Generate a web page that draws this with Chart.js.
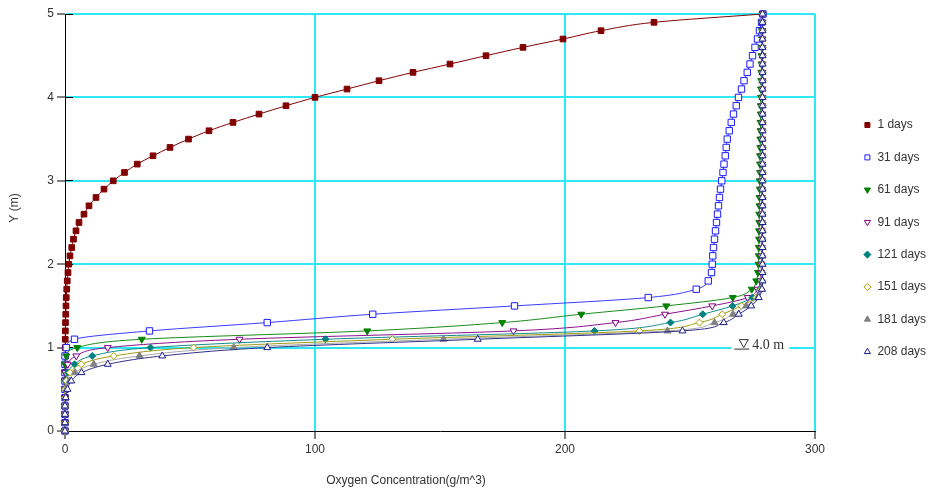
<!DOCTYPE html>
<html>
<head>
<meta charset="utf-8">
<script src="https://cdn.jsdelivr.net/npm/chart.js@4.4.0/dist/chart.umd.min.js"></script>
<style>
  body { margin: 0; background: #fff; }
  #area { width: 936px; height: 491px; position: relative; }
</style>
</head>
<body>
<div id="area"><canvas id="grafico"></canvas></div>
<script>
// Profundidades (Y em m), uma linha de perfil por série
const profundidades = [
  0.0, 0.1, 0.2, 0.3, 0.4, 0.5, 0.6, 0.7, 0.8, 0.9,
  1.0, 1.1, 1.2, 1.3, 1.4, 1.5, 1.6, 1.7, 1.8, 1.9,
  2.0, 2.1, 2.2, 2.3, 2.4, 2.5, 2.6, 2.7, 2.8, 2.9,
  3.0, 3.1, 3.2, 3.3, 3.4, 3.5, 3.6, 3.7, 3.8, 3.9,
  4.0, 4.1, 4.2, 4.3, 4.4, 4.5, 4.6, 4.7, 4.8, 4.9,
  5.0
];

const nomesSeries = ['1 days', '31 days', '61 days', '91 days', '121 days', '151 days', '181 days', '208 days'];

// Concentração de oxigênio (g/m^3), de Y=0 até Y=5
const dia1 = [
  0, 0, 0, 0, 0, 0, 0.05, 0.05, 0.1, 0.1,
  0.1, 0.1, 0.15, 0.2, 0.3, 0.4, 0.5, 0.7, 0.9, 1.2,
  1.5, 2.0, 2.7, 3.4, 4.4, 5.6, 7.6, 9.6, 12.4, 15.6,
  19.3, 23.8, 28.9, 35.2, 42, 49.4, 57.6, 67.2, 77.6, 88.4,
  100, 112.8, 125.6, 139.2, 154, 168.4, 183.2, 199.2, 214.4, 235.6,
  279
];
const dia31 = [
  0, 0, 0, 0, 0, 0, 0, 0, 0, 0,
  0.5, 3.8, 33.8, 80.9, 123.1, 179.8, 233.3, 252.5, 257.3, 258.6,
  258.9, 259.1, 259.4, 259.8, 260.2, 260.6, 261, 261.4, 261.8, 262.2,
  262.7, 263.2, 263.6, 264.1, 264.5, 264.9, 265.7, 266.5, 267.4, 268.5,
  269.4, 270.6, 271.6, 272.9, 274, 275, 276, 277, 277.8, 278.6,
  279.2
];
const dia61 = [
  0, 0, 0, 0, 0, 0, 0, 0, 0, 0.5,
  4.9, 30.7, 120.9, 174.9, 206.5, 240.5, 267.1, 274.7, 276.5, 277.2,
  277.4, 277.5, 277.5, 277.6, 277.6, 277.7, 277.7, 277.8, 277.8, 277.9,
  277.9, 278, 278, 278, 278.1, 278.1, 278.2, 278.2, 278.3, 278.3,
  278.4, 278.4, 278.5, 278.5, 278.6, 278.6, 278.7, 278.8, 278.8, 278.9,
  279
];
const dia91 = [
  0, 0, 0, 0, 0, 0, 0, 0.2, 1.1, 4.5,
  17.1, 69.8, 179.4, 220.2, 240, 258.9, 273.1, 277, 278.2, 278.5,
  278.6, 278.6, 278.7, 278.7, 278.7, 278.7, 278.8, 278.8, 278.8, 278.8,
  278.8, 278.8, 278.9, 278.9, 278.9, 278.9, 278.9, 278.9, 278.9, 278.9,
  279, 279, 279, 279, 279, 279, 279, 279, 279, 279,
  279
];
const dia121 = [
  0, 0, 0, 0, 0, 0, 0.2, 1.1, 3.8, 10.9,
  34.2, 104.2, 211.8, 242.2, 255.1, 267, 275, 278, 278.6, 278.8,
  278.8, 278.8, 278.8, 278.9, 278.9, 278.9, 278.9, 278.9, 278.9, 278.9,
  278.9, 278.9, 279, 279, 279, 279, 279, 279, 279, 279,
  279, 279, 279, 279, 279, 279, 279, 279, 279, 279,
  279
];
const dia151 = [
  0, 0, 0, 0, 0, 0, 0.5, 2, 6.5, 19.5,
  51.4, 130.9, 229.8, 253.8, 262.9, 270.5, 276.5, 278.4, 278.8, 278.9,
  278.9, 278.9, 278.9, 278.9, 278.9, 279, 279, 279, 279, 279,
  279, 279, 279, 279, 279, 279, 279, 279, 279, 279,
  279, 279, 279, 279, 279, 279, 279, 279, 279, 279,
  279
];
const dia181 = [
  0, 0, 0, 0, 0, 0.5, 1.8, 4, 11.5, 29.8,
  67.5, 151.4, 241, 259.8, 267.2, 272.5, 277, 278.7, 278.9, 279,
  279, 279, 279, 279, 279, 279, 279, 279, 279, 279,
  279, 279, 279, 279, 279, 279, 279, 279, 279, 279,
  279, 279, 279, 279, 279, 279, 279, 279, 279, 279,
  279
];
const dia208 = [
  0, 0, 0, 0, 0.3, 1.0, 2.5, 6.6, 17.1, 38.9,
  80.9, 165.1, 247, 263.5, 269.5, 274.5, 277.5, 278.8, 279, 279,
  279, 279, 279, 279, 279, 279, 279, 279, 279, 279,
  279, 279, 279, 279, 279, 279, 279, 279, 279, 279,
  279, 279, 279, 279, 279, 279, 279, 279, 279, 279,
  279
];

const ticksX = [0, 100, 200, 300];
const ticksY = [0, 1, 2, 3, 4, 5];
const nivelAgua = 1;          // linha do nível d'água (4.0 m)
const textoNivel = '4.0 m';

const valores = [dia1, dia31, dia61, dia91, dia121, dia151, dia181, dia208];

// aparência de cada série: cor da linha, cor do marcador, estilo, vazado?
const estilos = [
  { linha: '#800000', cor: '#800000', ponto: 'rect', raio: 4, rot: 0, vazio: false },
  { linha: '#3a3aff', cor: '#1a1aff', ponto: 'rect', raio: 4.5, rot: 0, vazio: true },
  { linha: '#1a8a1a', cor: '#008000', ponto: 'triangle', raio: 4, rot: 180, vazio: false },
  { linha: '#8a108a', cor: '#800080', ponto: 'triangle', raio: 4, rot: 180, vazio: true },
  { linha: '#108a8a', cor: '#008080', ponto: 'rectRot', raio: 3.5, rot: 0, vazio: false },
  { linha: '#a09a10', cor: '#a89e00', ponto: 'rectRot', raio: 3.5, rot: 0, vazio: true },
  { linha: '#a8a8a8', cor: '#808080', ponto: 'triangle', raio: 4, rot: 0, vazio: false },
  { linha: '#30308a', cor: '#1c1c8c', ponto: 'triangle', raio: 4, rot: 0, vazio: true }
];

const fonte = "'Liberation Sans', Arial, sans-serif";
const ciano = '#2ee8f4';

const datasets = nomesSeries.map((nome, i) => {
  const e = estilos[i];
  return {
    label: nome,
    data: profundidades.map((p, k) => ({ x: valores[i][k], y: p })),
    indexAxis: 'y',
    borderColor: e.linha,
    backgroundColor: e.cor,
    borderWidth: 1,
    cubicInterpolationMode: 'monotone',
    pointStyle: e.ponto,
    pointRotation: e.rot,
    pointRadius: e.raio,
    pointBorderWidth: 1,
    pointBorderColor: e.cor,
    pointBackgroundColor: e.vazio ? '#ffffff' : e.cor,
    order: nomesSeries.length - i,
    clip: 8
  };
});

// títulos dos eixos, marcas internas, legenda e o símbolo do nível d'água
const extras = {
  id: 'extras',
  afterLayout(chart) {
    // a legenda fica encostada na área do gráfico; empurra para a direita
    const leg = chart.legend;
    leg.left += 28;
    leg.right += 28;
  },
  beforeDatasetsDraw(chart) {
    const { ctx, chartArea, scales: { x, y } } = chart;
    ctx.save();
    ctx.strokeStyle = '#000';
    ctx.lineWidth = 1;
    ticksY.forEach(v => {
      const py = Math.round(y.getPixelForValue(v) - 0.5) + 0.5;
      ctx.beginPath();
      ctx.moveTo(chartArea.left, py);
      ctx.lineTo(chartArea.left + 8, py);
      ctx.stroke();
    });

    const yn = y.getPixelForValue(nivelAgua);
    const x0 = x.getPixelForValue(266.5);
    ctx.fillStyle = '#fff';
    ctx.fillRect(x0, yn - 10, 58, 13);
    ctx.fillStyle = '#333';
    ctx.strokeStyle = '#333';
    // triângulo invertido com traço embaixo
    ctx.beginPath();
    ctx.moveTo(x0 + 8, yn - 8);
    ctx.lineTo(x0 + 17, yn - 8);
    ctx.lineTo(x0 + 12.5, yn);
    ctx.closePath();
    ctx.stroke();
    ctx.beginPath();
    ctx.moveTo(x0 + 3, yn + 1.5);
    ctx.lineTo(x0 + 18, yn + 1.5);
    ctx.stroke();
    ctx.font = "14px 'Liberation Serif', 'Times New Roman', serif";
    ctx.textBaseline = 'alphabetic';
    ctx.textAlign = 'left';
    ctx.fillText(textoNivel, x0 + 21, yn + 1);
    ctx.restore();
  },
  afterDraw(chart) {
    const { ctx } = chart;
    ctx.save();
    ctx.fillStyle = '#333';
    ctx.font = '12px ' + fonte;
    ctx.textAlign = 'center';
    ctx.textBaseline = 'middle';
    ctx.fillText('Oxygen Concentration(g/m^3)', 406, 481);
    ctx.translate(15, 208);
    ctx.rotate(-Math.PI / 2);
    ctx.fillText('Y (m)', 0, 0);
    ctx.restore();
  }
};

// sem linha de grade no zero (ali fica o eixo preto)
const grade = {
  color: c => (c.tick && c.tick.value === 0 ? 'rgba(0,0,0,0)' : ciano),
  lineWidth: 2,
  tickColor: '#000',
  tickWidth: 1,
  tickLength: 8
};

new Chart(document.getElementById('grafico'), {
  type: 'line',
  data: { datasets },
  options: {
    responsive: true,
    maintainAspectRatio: false,
    animation: false,
    events: [],
    indexAxis: 'y',
    layout: { padding: 0 },
    plugins: {
      tooltip: { enabled: false },
      legend: {
        position: 'right',
        align: 'start',
        title: { display: true, text: '', padding: { top: 84.2, bottom: 0 }, font: { size: 12 } },
        labels: {
          usePointStyle: true,
          boxWidth: 8,
          boxHeight: 5,
          padding: 20.4,
          color: '#333',
          font: { family: fonte, size: 12 },
          sort: (a, b) => a.datasetIndex - b.datasetIndex
        }
      }
    },
    scales: {
      x: {
        type: 'linear',
        position: 'bottom',
        min: 0,
        max: 300,
        afterBuildTicks: s => { s.ticks = ticksX.map(v => ({ value: v })); },
        ticks: { color: '#333', font: { family: fonte, size: 12 }, padding: 3 },
        grid: grade,
        border: { color: '#000', width: 1 },
        title: { display: false },
        afterFit: s => { s.height = 60; s.paddingRight = 121; }
      },
      y: {
        type: 'linear',
        position: 'left',
        min: 0,
        max: 5,
        afterBuildTicks: s => { s.ticks = ticksY.map(v => ({ value: v })); },
        ticks: { color: '#333', font: { family: fonte, size: 12 }, padding: 3 },
        grid: grade,
        border: { color: '#000', width: 1 },
        title: { display: false },
        afterFit: s => { s.width = 65; s.paddingTop = 14; }
      }
    }
  },
  plugins: [extras]
});
</script>
</body>
</html>
